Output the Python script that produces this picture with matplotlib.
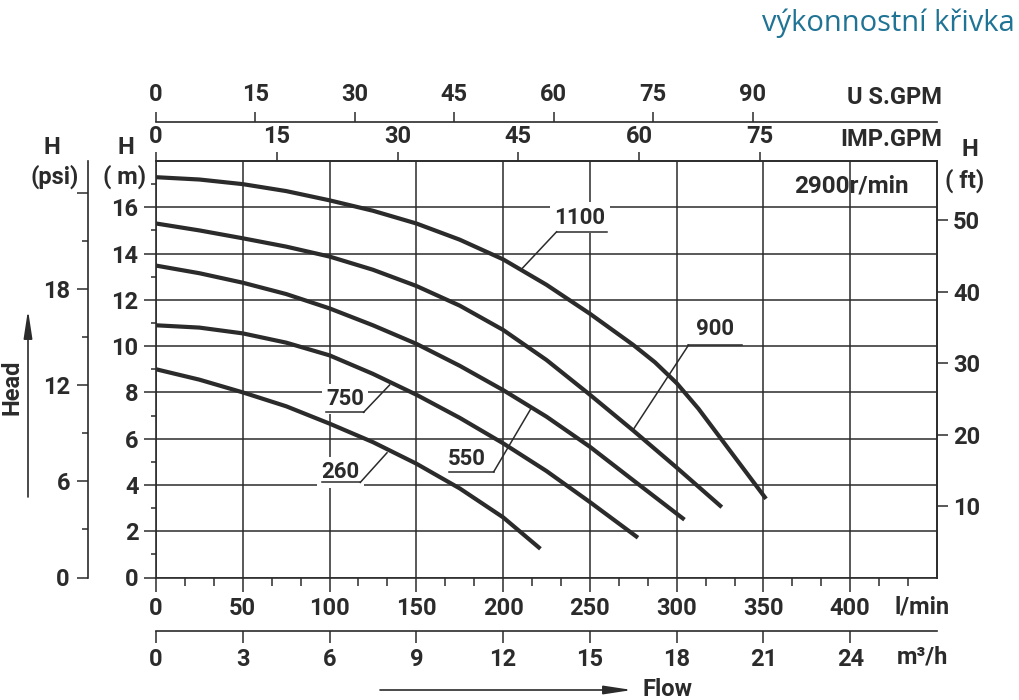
import matplotlib
matplotlib.use('Agg')
import matplotlib.pyplot as plt
from matplotlib.ticker import FixedLocator
from matplotlib.patches import FancyArrowPatch

# ---------------- data ----------------
# flow in l/min, head in m
q_1100 = [0, 25, 50, 75, 100, 125, 150, 175, 200, 225, 250, 275, 287.5, 300, 312.5, 325, 337.5, 351.5]
h_1100 = [17.3, 17.2, 17.0, 16.7, 16.3, 15.85, 15.3, 14.6, 13.75, 12.65, 11.4, 10.05, 9.3, 8.4, 7.3, 6.05, 4.8, 3.4]
q_900 = [0, 25, 50, 75, 100, 125, 150, 175, 200, 225, 250, 275, 300, 326]
h_900 = [15.3, 15.0, 14.66, 14.3, 13.87, 13.3, 12.6, 11.75, 10.7, 9.4, 7.9, 6.35, 4.75, 3.04]
q_550 = [0, 25, 50, 75, 100, 125, 150, 175, 200, 225, 250, 275, 304.5]
h_550 = [13.48, 13.15, 12.74, 12.25, 11.63, 10.9, 10.1, 9.15, 8.1, 6.95, 5.65, 4.2, 2.5]
q_750 = [0, 25, 50, 75, 100, 125, 150, 175, 200, 225, 250, 277.7]
h_750 = [10.9, 10.8, 10.55, 10.15, 9.6, 8.8, 7.9, 6.9, 5.8, 4.6, 3.26, 1.72]
q_260 = [0, 25, 50, 75, 100, 125, 150, 175, 200, 221.5]
h_260 = [9.0, 8.55, 8.0, 7.4, 6.65, 5.85, 4.92, 3.85, 2.6, 1.24]

curve_labels = ['1100', '900', '550', '750', '260']

lmin_ticks = [0, 50, 100, 150, 200, 250, 300, 350, 400]
m3h_ticks = [0, 3, 6, 9, 12, 15, 18, 21, 24]
m_ticks = [0, 2, 4, 6, 8, 10, 12, 14, 16]
psi_ticks = [0, 6, 12, 18, 24]
psi_labels = ['0', '6', '12', '18', '']
ft_ticks = [10, 20, 30, 40, 50]
imp_ticks = [0, 15, 30, 45, 60, 75]
us_ticks = [0, 15, 30, 45, 60, 75, 90]

# unit conversion factors as drawn on the chart
PSI_PER_M = 1.444
FT_PER_M = 3.24
LMIN_PER_IMP = 4.64
LMIN_PER_US = 3.82
LMIN_PER_M3H = 50 / 3

# ---------------- style ----------------
ink = '#2b2b2b'
FS = 17
plt.rcParams['font.family'] = ['Roboto', 'DejaVu Sans']
plt.rcParams['font.weight'] = 'bold'
plt.rcParams['text.color'] = ink
plt.rcParams['axes.edgecolor'] = ink
plt.rcParams['xtick.color'] = ink
plt.rcParams['ytick.color'] = ink
plt.rcParams['axes.linewidth'] = 1.2

W, H = 1020, 700
fig = plt.figure(figsize=(W / 100, H / 100), dpi=100)
x0, x1, ytop, ybot = 156, 937, 161, 577.5
ax = fig.add_axes([x0 / W, (H - ybot) / H, (x1 - x0) / W, (ybot - ytop) / H])
ax.set_xlim(0, 450)
ax.set_ylim(0, 18)

curves = {'1100': (q_1100, h_1100), '900': (q_900, h_900), '550': (q_550, h_550),
          '750': (q_750, h_750), '260': (q_260, h_260)}
for lab in curve_labels:
    q, h = curves[lab]
    ax.plot(q, h, color=ink, lw=3.0, solid_capstyle='butt', solid_joinstyle='round', zorder=4)

ax.xaxis.set_major_locator(FixedLocator(lmin_ticks))
ax.xaxis.set_minor_locator(FixedLocator([k * 50 / 3 for k in range(1, 27) if k % 3]))
ax.yaxis.set_major_locator(FixedLocator(m_ticks))
ax.yaxis.set_minor_locator(FixedLocator([1, 3, 5, 7, 9, 11, 13, 15, 17]))
ax.grid(True, which='major', color=ink, lw=1.1, zorder=1)
ax.tick_params(axis='x', which='major', length=10, width=1.1, labelsize=FS, pad=4)
ax.tick_params(axis='x', which='minor', length=5.8, width=1.1)
ax.tick_params(axis='y', which='major', length=8.6, width=1.1, labelsize=FS, pad=4)
ax.tick_params(axis='y', which='minor', length=3.6, width=1.1)

# left psi axis
psi = ax.secondary_yaxis(-(x0 - 88) / (x1 - x0),
                         functions=(lambda m: m * PSI_PER_M, lambda p: p / PSI_PER_M))
psi.set_yticks(psi_ticks, labels=psi_labels)
psi.yaxis.set_minor_locator(FixedLocator([3, 9, 15, 21]))
psi.tick_params(which='major', length=8, width=1.1, labelsize=FS, pad=5)
psi.tick_params(which='minor', length=4.3, width=1.1)

# right ft axis
ft = ax.secondary_yaxis('right', functions=(lambda m: m * FT_PER_M, lambda f: f / FT_PER_M))
ft.set_yticks(ft_ticks)
ft.tick_params(which='major', length=8, width=1.1, labelsize=FS, pad=3.6)

# top IMP.GPM axis
imp = ax.secondary_xaxis('top', functions=(lambda q: q / LMIN_PER_IMP, lambda g: g * LMIN_PER_IMP))
imp.set_xticks(imp_ticks)
imp.tick_params(which='major', length=6.5, width=1.1, labelsize=FS, pad=2.5)

# top US GPM axis
us = ax.secondary_xaxis(1 + (ytop - 122) / (ybot - ytop),
                        functions=(lambda q: q / LMIN_PER_US, lambda g: g * LMIN_PER_US))
us.set_xticks(us_ticks)
us.tick_params(which='major', length=7.2, width=1.1, labelsize=FS, pad=4.5)

# bottom m3/h axis
m3 = ax.secondary_xaxis(-(631 - ybot) / (ybot - ytop),
                        functions=(lambda q: q / LMIN_PER_M3H, lambda m: m * LMIN_PER_M3H))
m3.set_xticks(m3h_ticks)
m3.tick_params(which='major', length=8.6, width=1.1, labelsize=FS, pad=3.6)

# curve labels with leader lines: text pos, underline span/height, leader tip, leader side
ann = {
    '1100': (244.3, 15.55, 230.8, 259.6, 14.94, 210.4, 13.31, 'left'),
    '900': (322.2, 10.73, 306.8, 337.4, 10.04, 275.4, 6.44, 'left'),
    '750': (108.8, 7.71, 98.1, 119.6, 7.14, 134.6, 8.32, 'right'),
    '260': (106.2, 4.54, 95.6, 117.7, 4.11, 133.1, 5.39, 'right'),
    '550': (179.1, 5.12, 168.6, 194.6, 4.57, 215.8, 7.27, 'right'),
}
for lab, (tq, th, u0, u1, uh, pq, ph, side) in ann.items():
    ax.text(tq, th, lab, ha='center', va='center', fontsize=16, fontweight='bold',
            zorder=5, bbox=dict(fc='white', ec='none', pad=3))
    start = u0 if side == 'left' else u1
    ax.plot([u0, u1], [uh, uh], color=ink, lw=1.1, zorder=6)
    ax.plot([start, pq], [uh, ph], color=ink, lw=1.1, zorder=6)

ax.text(0.891, 0.94, '2900r/min', transform=ax.transAxes, ha='center', va='center',
        fontsize=17.5, zorder=5)


def ftxt(x, y, s, **kw):
    fig.text(x / W, 1 - y / H, s, **kw)


ftxt(942, 97, 'U S.GPM', ha='right', va='center', fontsize=FS)
ftxt(942, 140, 'IMP.GPM', ha='right', va='center', fontsize=FS)
ftxt(895, 607, 'l/min', ha='left', va='center', fontsize=FS)
ftxt(897, 657, 'm³/h', ha='left', va='center', fontsize=FS)
ftxt(52, 147, 'H', ha='center', va='center', fontsize=FS)
ftxt(55, 177, '(psi)', ha='center', va='center', fontsize=FS)
ftxt(126, 147, 'H', ha='center', va='center', fontsize=FS)
ftxt(125, 177, '( m)', ha='center', va='center', fontsize=FS)
ftxt(970, 150, 'H', ha='center', va='center', fontsize=FS)
ftxt(965, 181, '( ft)', ha='center', va='center', fontsize=FS)
ftxt(12, 387, 'Head', ha='center', va='center', fontsize=17, rotation=90)
ftxt(643, 690, 'Flow', ha='left', va='center', fontsize=17)
ftxt(1015, 23, 'výkonnostní křivka', ha='right', va='center', fontsize=21,
     color='#1f7394', fontweight='normal', family=['Open Sans', 'DejaVu Sans'])

arrow_style = '-|>,head_length=17,head_width=2.6'
fig.add_artist(FancyArrowPatch((380 / W, 1 - 690 / H), (632 / W, 1 - 690 / H),
                               transform=fig.transFigure, arrowstyle=arrow_style,
                               mutation_scale=1, color=ink, lw=1.2,
                               shrinkA=0, shrinkB=0))
fig.add_artist(FancyArrowPatch((28 / W, 1 - 497 / H), (28 / W, 1 - 310 / H),
                               transform=fig.transFigure, arrowstyle=arrow_style,
                               mutation_scale=1, color=ink, lw=1.2,
                               shrinkA=0, shrinkB=0))

fig.savefig('out.png', dpi=100, facecolor='white')
